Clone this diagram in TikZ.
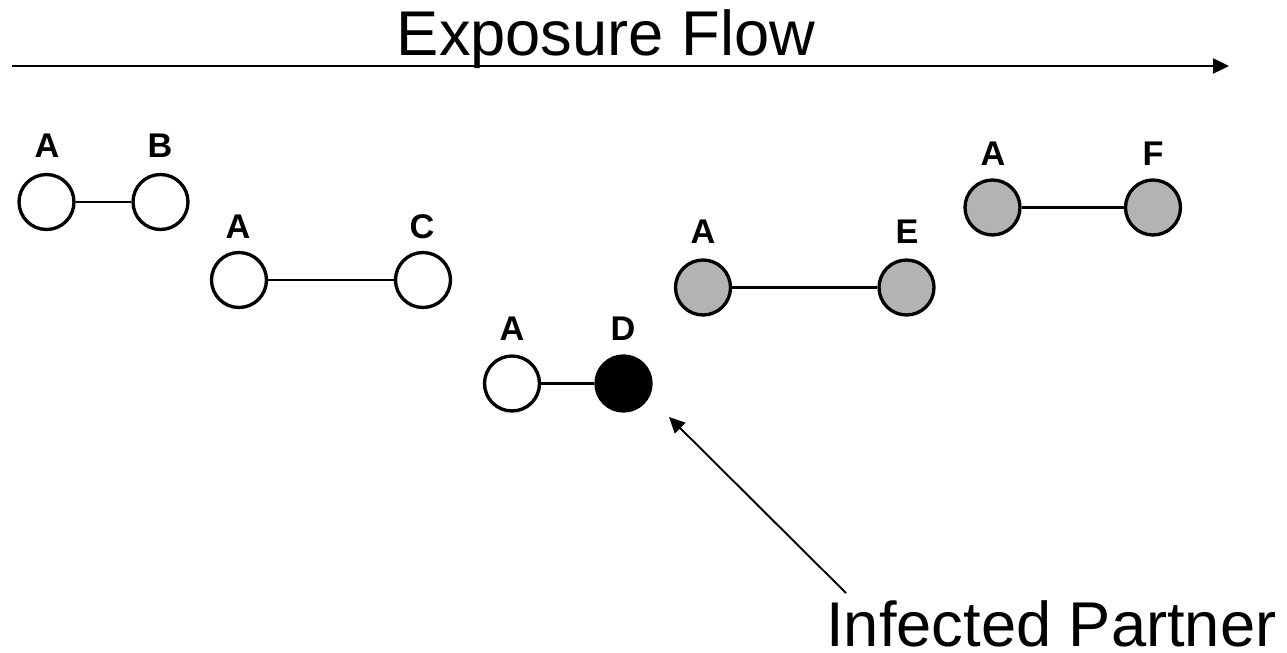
\documentclass[tikz,border=0pt]{standalone}
\usepackage{fontspec}
\setmainfont{Liberation Sans}
\usetikzlibrary{arrows.meta}
\definecolor{infgray}{RGB}{179,179,179}
\begin{document}
\begin{tikzpicture}[x=0.02cm,y=-0.02cm,
  person/.style={circle,draw=black,line width=1.9pt,minimum size=1.1cm,inner sep=0pt,fill=white},
  exposed/.style={person,fill=infgray},
  infected/.style={person,fill=black},
  tie/.style={line width=1.5pt},
  lbl/.style={inner sep=0pt,font=\fontsize{19.5}{22}\selectfont\bfseries},
  bigtxt/.style={inner sep=0pt,font=\fontsize{36}{42}\selectfont},
  flow/.style={line width=1.1pt,-{Triangle[length=9pt,width=8.5pt]}}]
\useasboundingbox (0,0) rectangle (1287,652);
% title and time arrow
\node[bigtxt,anchor=base] (title) at (606,56) {Exposure Flow};
\coordinate (fs) at (12,66);
\coordinate (fe) at (1229,66);
\draw[flow] (fs) -- (fe);
% pair 1
\node[person] (a1) at (46.5,202) {};
\node[person] (b) at (160.5,202) {};
\node[lbl] (la1) at (47,146) {A};
\node[lbl] (lb) at (160,146) {B};
\draw[tie] (a1) -- (b);
% pair 2
\node[person] (a2) at (239,280) {};
\node[person] (c) at (423,280) {};
\node[lbl] (la2) at (238,227) {A};
\node[lbl] (lc) at (422,227) {C};
\draw[tie] (a2) -- (c);
% pair 3
\node[person] (a3) at (512,383.5) {};
\node[infected] (d) at (623.5,383.5) {};
\node[lbl] (la3) at (512,328.5) {A};
\node[lbl] (ld) at (623,328.5) {D};
\draw[tie] (a3) -- (d);
% pair 4
\node[exposed] (a4) at (703,287.5) {};
\node[exposed] (e) at (906.5,287.5) {};
\node[lbl] (la4) at (703,231.5) {A};
\node[lbl] (le) at (907,231.5) {E};
\draw[tie] (a4) -- (e);
% pair 5
\node[exposed] (a5) at (992.5,207.5) {};
\node[exposed] (f) at (1153,207.5) {};
\node[lbl] (la5) at (993,153.5) {A};
\node[lbl] (lf) at (1153,153.5) {F};
\draw[tie] (a5) -- (f);
% infected partner callout
\node[bigtxt,anchor=base west] (ip) at (826,646) {Infected Partner};
\coordinate (ips) at (846,593);
\coordinate (ipt) at (669,417);
\draw[flow] (ips) -- (ipt);
\end{tikzpicture}
\end{document}
